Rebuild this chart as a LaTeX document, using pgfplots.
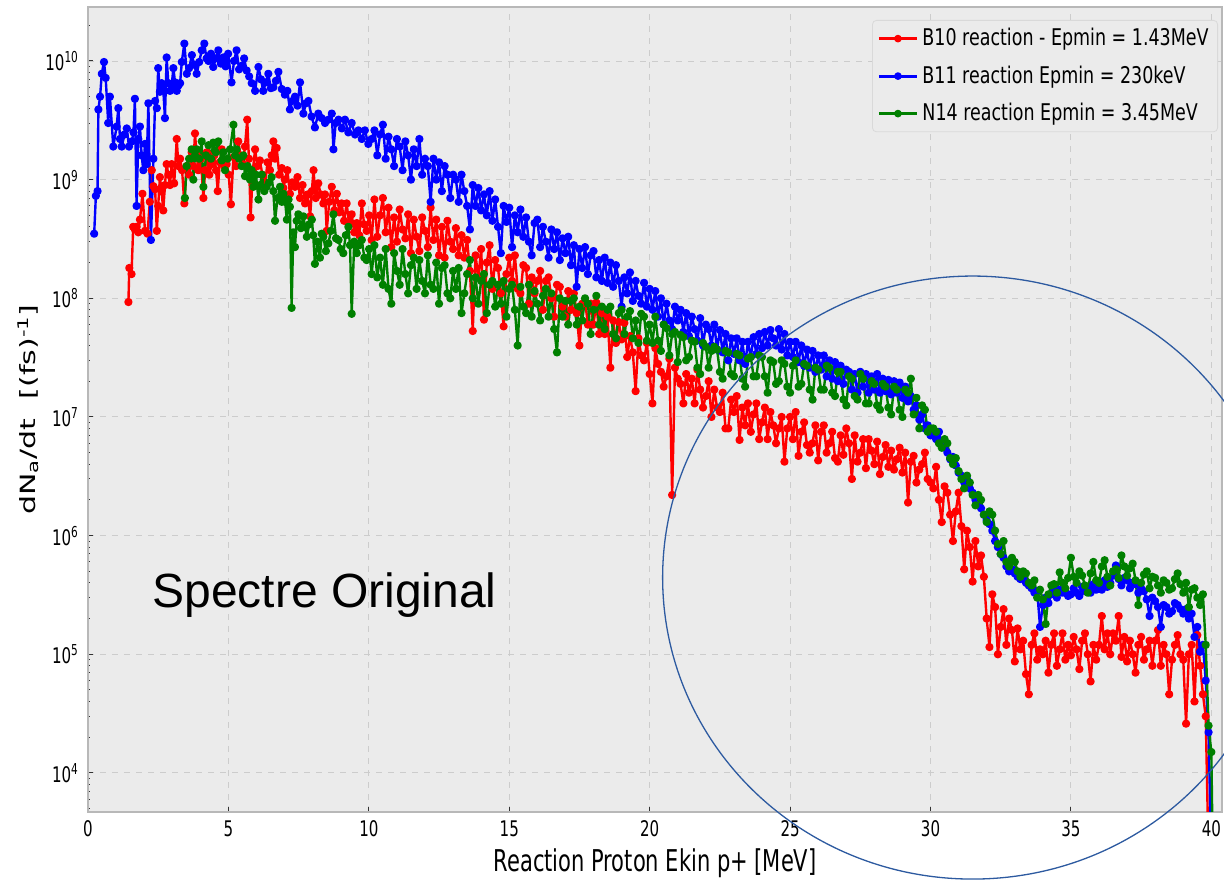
\documentclass[border=0pt]{standalone}
\usepackage{fontspec}
\usepackage{graphicx}
\usepackage{pgfplots}
\pgfplotsset{compat=1.18}
\setmainfont{DejaVu Sans}
\newfontfamily\narrowfont{DejaVu Sans}[FakeStretch=0.70]
\newfontfamily\legfont{DejaVu Sans}[FakeStretch=0.76]
\newfontfamily\arialfont{Liberation Sans}
\definecolor{bgc}{RGB}{235,235,235}
\definecolor{mplred}{RGB}{255,0,0}
\definecolor{mplblue}{RGB}{0,0,255}
\definecolor{mplgreen}{RGB}{0,128,0}
\definecolor{circcol}{RGB}{45,90,160}

\begin{document}
\begin{tikzpicture}
\begin{axis}[
    scale only axis,
    width=567pt, height=402.5pt,
    xmin=0, xmax=40.38,
    ymode=log, log basis y=10,
    ymin=4685, ymax=2.85e10,
    xtick={0,5,...,40},
    ytick={1e4,1e5,1e6,1e7,1e8,1e9,1e10},
    minor ytick={5e3,6e3,7e3,8e3,9e3,2e4,3e4,4e4,5e4,6e4,7e4,8e4,9e4,2e5,3e5,4e5,5e5,6e5,7e5,8e5,9e5,2e6,3e6,4e6,5e6,6e6,7e6,8e6,9e6,2e7,3e7,4e7,5e7,6e7,7e7,8e7,9e7,2e8,3e8,4e8,5e8,6e8,7e8,8e8,9e8,2e9,3e9,4e9,5e9,6e9,7e9,8e9,9e9,2e10},
    /pgf/number format/assume math mode=true,
    yticklabel={10\textsuperscript{\pgfmathparse{int(round(\tick))}\pgfmathresult}},
    ticklabel style={font=\narrowfont\fontsize{10.75}{13}\selectfont},
    xticklabel style={anchor=base, yshift=-12.5pt},
    yticklabel style={xshift=-1pt},
    xtick pos=bottom, ytick pos=left,
    tick align=inside,
    major tick length=2.5pt, minor tick length=1.2pt,
    tick style={black!80, line width=0.5pt},
    grid=major,
    grid style={dashed, black!20, line width=0.45pt},
    axis line style={black!28, line width=0.7pt},
    axis background/.style={fill=bgc},
    xlabel={Reaction Proton Ekin p+ [MeV]},
    xlabel style={at={(axis description cs:0.5,-0.0745)}, anchor=base, font=\narrowfont\fontsize{15}{18}\selectfont},
    ylabel={\scalebox{1}[0.7]{dN\textsubscript{a}/dt\ \ [(fs)\textsuperscript{-1}]}},
    ylabel style={at={(axis description cs:-0.0529,0.5)}, anchor=center, font=\fontsize{15}{18}\selectfont},
    legend style={at={(1,1)}, anchor=north east, xshift=-2pt, yshift=-6.5pt,
        draw=black!15, fill=bgc, rounded corners=2pt,
        font=\legfont\fontsize{11.5}{13}\selectfont,
        nodes={inner sep=2pt}, row sep=4.5pt, inner xsep=2.5pt, inner ysep=2pt},
    legend cell align=left,
    legend image code/.code={\draw[#1,mark=none,line width=1.5pt] (0pt,0pt) -- (19pt,0pt); \fill[#1] (9.5pt,0pt) circle (1.3pt);},
    every axis plot/.append style={line width=1.2pt, line join=round, mark=*, mark size=1.45pt},
]
% B10
\addplot[mplred] coordinates {
(1.44,9.3e7) (1.47,1.8e8) (1.55,1.6e8) (1.61,4e8) (1.67,3.8e8) (1.73,4e8) (1.79,3.6e8) (1.85,4.6e8) (1.94,7.6e8) (2.03,3.7e8) (2.12,3.5e8) (2.2,6.5e8) (2.27,1.2e9) (2.33,8.8e8) (2.39,8.3e8) (2.45,3.7e8) (2.5,6e8) (2.56,1.05e9) (2.62,8e8) (2.68,5.5e8) (2.74,9e8) (2.8,1.35e9) (2.86,1.1e9) (2.92,9e8) (2.98,1.35e9) (3.07,9.3e8) (3.16,2.2e9) (3.22,1.3e9) (3.28,1.5e9) (3.35,1.2e9) (3.43,6.3e8) (3.51,1.3e9) (3.6,1.1e9) (3.69,1.7e9) (3.75,1.3e9) (3.81,2.45e9) (3.87,1.6e9) (3.93,1.2e9) (4.02,1.5e9) (4.11,7e8) (4.17,1.2e9) (4.23,1.7e9) (4.32,1.1e9) (4.4,1.35e9) (4.5,1.6e9) (4.56,1.2e9) (4.62,8e8) (4.69,1.4e9) (4.76,1.8e9) (4.85,1.3e9) (4.94,1.35e9) (5.01,1.1e9) (5.09,6.2e8) (5.18,1.55e9) (5.27,1.3e9) (5.35,2.1e9) (5.43,1.6e9) (5.51,1.35e9) (5.59,1.9e9) (5.67,3.2e9) (5.73,1.5e9) (5.79,4.8e8) (5.87,1.2e9) (5.95,1.8e9) (6.03,1.3e9) (6.12,1.45e9) (6.21,1.1e9) (6.3,8.7e8) (6.39,1.4e9) (6.48,1.2e9) (6.54,1.6e9) (6.6,2.1e9) (6.66,1.5e9) (6.72,1.85e9) (6.81,1.1e9) (6.9,1.25e9) (6.96,8.5e8) (7.01,1e9) (7.1,1.2e9) (7.19,7.6e8) (7.28,9.5e8) (7.37,8.7e8) (7.46,1.05e9) (7.55,7e8) (7.64,9e8) (7.73,6.3e8) (7.82,7.5e8) (7.91,4.9e8) (7.97,8e8) (8.03,1.2e9) (8.11,7e8) (8.2,9.3e8) (8.29,7.5e8) (8.38,6.3e8) (8.44,7.5e8) (8.5,3.7e8) (8.59,6.5e8) (8.68,8.7e8) (8.77,5.5e8) (8.86,7.6e8) (8.95,5.3e8) (9.03,6.3e8) (9.12,4.5e8) (9.21,6.3e8) (9.3,4.2e8) (9.39,5.1e8) (9.48,3.6e8) (9.57,4.3e8) (9.66,3.4e8) (9.75,6.3e8) (9.83,4.2e8) (9.92,3.7e8) (10.01,5e8) (10.1,3.1e8)
(10.2,6.8e8) (10.3,3.3e8) (10.4,5e8) (10.5,7e8) (10.6,3.6e8) (10.7,5.8e8) (10.8,2.7e8) (10.9,4.8e8) (11.0,3e8)
(11.1,5.6e8) (11.2,3.8e8) (11.3,3.2e8) (11.4,5.1e8) (11.5,2.4e8) (11.6,4.6e8) (11.7,3.3e8) (11.8,2.5e8) (11.9,4.8e8) (12.0,3.7e8)
(12.1,2.7e8) (12.2,5.8e8) (12.3,3.1e8) (12.4,4.6e8) (12.5,2.3e8) (12.6,4e8) (12.7,2.2e8) (12.8,4.5e8) (12.9,3e8) (13.0,2.6e8)
(13.1,3.9e8) (13.2,2.3e8) (13.3,3.4e8) (13.4,2.2e8) (13.5,3.1e8) (13.6,1.7e8) (13.7,5.3e7) (13.8,2.3e8) (13.9,1.5e8) (14.0,2.6e8)
(14.1,6.6e7) (14.2,2e8) (14.3,2.8e8) (14.4,1.2e8) (14.5,2.1e8) (14.6,1.8e8) (14.7,1.1e8) (14.8,5.8e7) (14.9,1.6e8) (15.0,2.2e8)
(15.1,1.4e8) (15.2,2.3e8) (15.3,1.2e8) (15.4,1.1e8) (15.5,1.9e8) (15.6,1.8e8) (15.7,9e7) (15.8,1.5e8) (15.9,1.1e8) (16.0,1.4e8)
(16.1,1.7e8) (16.2,8e7) (16.3,1.4e8) (16.4,1.5e8) (16.5,1e8) (16.6,7e7) (16.7,1.3e8) (16.8,1.25e8) (16.9,8.5e7) (17.0,7e7)
(17.1,1.15e8) (17.2,8e7) (17.3,1.1e8) (17.4,7.5e7) (17.5,4e7) (17.6,9e7) (17.7,9.5e7) (17.8,6e7) (17.9,9e7) (18.0,6e7)
(18.1,9.2e7) (18.2,5e7) (18.3,7.5e7) (18.4,5e7) (18.5,7e7) (18.6,2.6e7) (18.7,6.5e7) (18.8,4.2e7) (18.9,6.3e7) (19.0,4.5e7)
(19.1,6.2e7) (19.2,3.2e7) (19.3,4.8e7) (19.4,3.5e7) (19.5,1.65e7) (19.6,4.6e7) (19.7,3.3e7) (19.8,3e7) (19.9,4.2e7) (20.0,2.3e7)
(20.1,1.3e7) (20.2,3.8e7) (20.3,2.8e7) (20.4,2.4e7) (20.5,1.8e7) (20.6,2.2e7) (20.7,3.1e7) (20.8,2.2e6) (20.9,2.6e7) (21.0,2.1e7)
(21.1,1.9e7) (21.2,1.3e7) (21.3,2.3e7) (21.4,1.6e7) (21.5,2.1e7) (21.6,1.3e7) (21.7,2.5e7) (21.8,1.7e7) (21.9,1.2e7) (22.0,1.5e7)
(22.1,2e7) (22.2,1e7) (22.3,1.7e7) (22.4,1.2e7) (22.5,1.1e7) (22.6,1.6e7) (22.7,8e6) (22.8,8e6) (22.9,1.4e7) (23.0,1.1e7)
(23.1,1.5e7) (23.2,6.4e6) (23.3,1.2e7) (23.4,8.5e6) (23.5,1.3e7) (23.6,7.5e6) (23.7,1.05e7) (23.8,1.3e7) (23.9,6.5e6) (24.0,9e6)
(24.1,1.2e7) (24.2,6.5e6) (24.3,1.1e7) (24.4,8.5e6) (24.5,6e6) (24.6,8e6) (24.7,1e7) (24.8,4.2e6) (24.9,8e6) (25.0,1e7)
(25.1,6.5e6) (25.2,1.1e7) (25.3,4.7e6) (25.4,7.5e6) (25.5,9e6) (25.6,5.8e6) (25.7,5e6) (25.8,6e6) (25.9,8.5e6) (26.0,4.3e6)
(26.1,7.5e6) (26.2,8.5e6) (26.3,5e6) (26.4,6e6) (26.5,7.5e6) (26.6,4.5e6) (26.7,4.2e6) (26.8,7e6) (26.9,4.8e6) (27.0,8e6)
(27.1,6e6) (27.2,3e6) (27.3,7e6) (27.4,4.2e6) (27.5,5e6) (27.6,6.5e6) (27.7,3.7e6) (27.8,6.5e6) (27.9,5.2e6) (28.0,4e6)
(28.1,6.2e6) (28.2,3.3e6) (28.3,4.6e6) (28.4,5.8e6) (28.5,3.8e6) (28.6,5.2e6) (28.7,3.6e6) (28.8,4.4e6) (28.9,5.5e6) (29.0,3.4e6)
(29.1,5e6) (29.2,1.9e6) (29.3,4.2e6) (29.4,4.7e6) (29.5,2.8e6) (29.6,3.6e6) (29.7,4e6) (29.8,5e6) (29.9,3e6) (30.0,2.8e6)
(30.1,2.5e6) (30.2,3.8e6) (30.3,2e6) (30.4,1.3e6) (30.5,2.6e6) (30.6,2.3e6) (30.7,1.5e6) (30.8,9e5) (30.9,1.6e6) (31.0,2.3e6)
(31.1,1.2e6) (31.2,5.2e5) (31.3,1.1e6) (31.4,8e5) (31.5,4.1e5) (31.6,9e5) (31.7,5.5e5) (31.8,6.8e5) (31.9,4.5e5) (32.0,2e5)
(32.1,1.15e5) (32.2,3.2e5) (32.3,2.5e5) (32.4,1e5) (32.5,1.7e5) (32.6,2.4e5) (32.7,1.2e5) (32.8,2e5) (32.9,1.6e5) (33.0,8.7e4)
(33.1,1.65e5) (33.2,1.1e5) (33.3,1.3e5) (33.4,6.8e4) (33.5,4.6e4) (33.6,1.2e5) (33.7,1.5e5) (33.8,9e4) (33.9,1.1e5) (34.0,1e5)
(34.1,1.3e5) (34.2,7e4) (34.3,1.2e5) (34.4,1.5e5) (34.5,8e4) (34.6,1.1e5) (34.7,1.5e5) (34.8,9e4) (34.9,1.2e5) (35.0,9.8e4)
(35.1,1.4e5) (35.2,1.1e5) (35.3,7.5e4) (35.4,1.3e5) (35.5,1.5e5) (35.6,1e5) (35.7,5.9e4) (35.8,1.2e5) (35.9,9e4) (36.0,1.2e5)
(36.1,2.1e5) (36.2,1.1e5) (36.3,1.5e5) (36.4,1e5) (36.5,1.5e5) (36.6,1.3e5) (36.7,2.1e5) (36.8,9.5e4) (36.9,1.4e5) (37.0,8.7e4)
(37.1,1.3e5) (37.2,1e5) (37.3,7e4) (37.4,1.2e5) (37.5,1.4e5) (37.6,9e4) (37.7,1.1e5) (37.8,1.3e5) (37.9,8e4) (38.0,1.3e5)
(38.1,1.6e5) (38.2,8e4) (38.3,1.2e5) (38.4,1e5) (38.5,4.6e4) (38.6,9e4) (38.7,1.2e5) (38.8,1.45e5) (38.9,1e5) (39.0,9e4)
(39.1,2.6e4) (39.2,1e5) (39.3,1.2e5) (39.4,4e4) (39.5,1.45e5) (39.6,8e4) (39.7,4.6e4) (39.8,3e4) (39.9,2e3)
};
\addlegendentry{B10 reaction - Epmin = 1.43MeV}
% B11
\addplot[mplblue] coordinates {
(0.22,3.5e8) (0.28,7.3e8) (0.34,8e8) (0.37,3.9e9) (0.43,5e9) (0.49,7.8e9) (0.57,9.8e9) (0.63,7.2e9) (0.72,3e9) (0.78,5e9) (0.9,1.9e9) (1.02,2.8e9) (1.08,4e9) (1.14,2.2e9) (1.2,1.9e9) (1.3,2.4e9) (1.38,2.7e9) (1.46,1.9e9) (1.56,2.1e9) (1.62,2.5e9) (1.67,4.8e9) (1.73,6e8) (1.79,2.2e9) (1.85,2.8e9) (1.91,1.6e9) (1.97,1.2e9) (2.03,2e9) (2.09,1.35e9) (2.15,4.4e9) (2.24,3.1e8) (2.33,1.5e9) (2.39,4.6e9) (2.45,4e9) (2.5,8.7e9) (2.56,5.5e9) (2.62,6.5e9) (2.68,5.8e9) (2.74,3.3e9) (2.8,1.07e10) (2.86,6.5e9) (2.92,5.6e9) (2.98,6.2e9) (3.04,8.7e9) (3.1,6.6e9) (3.16,5.6e9) (3.22,6.2e9) (3.28,6.5e9) (3.34,9.8e9) (3.43,1.4e10) (3.52,7.8e9) (3.6,8.7e9) (3.7,1.12e10) (3.78,9.3e9) (3.87,7.8e9) (3.96,9.8e9) (4.05,1.23e10) (4.14,1.4e10) (4.22,1.05e10) (4.29,1e10) (4.38,1.15e10) (4.46,8.9e9) (4.55,1.05e10) (4.64,1.23e10) (4.73,9.5e9) (4.82,1.07e10) (4.9,9e9) (4.99,1.15e10) (5.11,6.6e9) (5.2,1e10) (5.29,1.23e10) (5.38,8.5e9) (5.47,9.1e9) (5.56,1.05e10) (5.65,8.3e9) (5.74,7.4e9) (5.83,6.5e9) (5.95,5.6e9) (6.07,8.9e9) (6.16,7e9) (6.24,5.6e9) (6.33,6.6e9) (6.42,7.8e9) (6.51,5.9e9) (6.6,6e9) (6.69,6.8e9) (6.78,8.1e9) (6.9,5.8e9) (7.01,5.2e9) (7.1,5.6e9) (7.19,3.9e9) (7.28,4.6e9) (7.37,5e9) (7.46,4.2e9) (7.55,6.6e9) (7.67,3.6e9) (7.76,4.4e9) (7.85,4.6e9) (7.96,3.4e9) (8.08,2.75e9) (8.2,3.6e9) (8.32,3.3e9) (8.44,3e9) (8.56,3.2e9) (8.68,3.6e9) (8.74,1.8e9) (8.82,3e9) (8.92,3.2e9) (9.04,2.7e9) (9.15,3.2e9) (9.27,2.5e9) (9.39,3e9) (9.51,2.4e9) (9.63,2.6e9) (9.75,2.2e9) (9.86,2.6e9) (9.98,2e9) (10.1,2.2e9)
(10.2,2.6e9) (10.3,1.6e9) (10.4,2.4e9) (10.5,2.9e9) (10.6,1.5e9) (10.7,2.3e9) (10.8,1.8e9) (10.9,1.3e9) (11.0,2.2e9)
(11.1,1.9e9) (11.2,1.2e9) (11.3,2.1e9) (11.4,1.6e9) (11.5,1e9) (11.6,1.8e9) (11.7,1.3e9) (11.8,2.2e9) (11.9,1.1e9) (12.0,1.5e9)
(12.1,1.3e9) (12.2,6.5e8) (12.3,1.5e9) (12.4,1e9) (12.5,1.4e9) (12.6,8e8) (12.7,1.3e9) (12.8,1.1e9) (12.9,7e8) (13.0,1.1e9)
(13.1,1e9) (13.2,6.5e8) (13.3,1.1e9) (13.4,8e8) (13.5,6e8) (13.6,3.8e8) (13.7,9e8) (13.8,6e8) (13.9,8.5e8) (14.0,5.5e8)
(14.1,7.5e8) (14.2,5e8) (14.3,8e8) (14.4,4.5e8) (14.5,6.8e8) (14.6,4e8) (14.7,2.4e8) (14.8,6e8) (14.9,4.4e8) (15.0,5.8e8)
(15.1,2.7e8) (15.2,5e8) (15.3,3.6e8) (15.4,5.6e8) (15.5,3.3e8) (15.6,4.8e8) (15.7,3e8) (15.8,2.3e8) (15.9,4.3e8) (16.0,4.6e8)
(16.1,2.7e8) (16.2,4e8) (16.3,3e8) (16.4,2.2e8) (16.5,3.8e8) (16.6,2.6e8) (16.7,3.6e8) (16.8,2.1e8) (16.9,3.2e8) (17.0,2.4e8)
(17.1,3.3e8) (17.2,1.9e8) (17.3,2.8e8) (17.4,1.25e8) (17.5,2.6e8) (17.6,1.8e8) (17.7,2.7e8) (17.8,1.6e8) (17.9,2.3e8) (18.0,2.5e8)
(18.1,1.5e8) (18.2,2.1e8) (18.3,1.4e8) (18.4,2.2e8) (18.5,1.35e8) (18.6,2e8) (18.7,1.25e8) (18.8,1.9e8) (18.9,1.4e8) (19.0,8.5e7)
(19.1,1.5e8) (19.2,1.1e8) (19.3,1.65e8) (19.4,9.5e7) (19.5,1.4e8) (19.6,1.05e8) (19.7,9e7) (19.8,1.35e8) (19.9,8.5e7) (20.0,1.2e8)
(20.1,8e7) (20.2,1.15e8) (20.3,7e7) (20.4,1e8) (20.5,6e7) (20.6,9e7) (20.7,6.5e7) (20.8,5.5e7) (20.9,8.5e7) (21.0,6.5e7)
(21.1,8e7) (21.2,5.2e7) (21.3,7.5e7) (21.4,4.8e7) (21.5,7e7) (21.6,5.5e7) (21.7,4.4e7) (21.8,6.8e7) (21.9,4e7) (22.0,6e7)
(22.1,5.5e7) (22.2,4e7) (22.3,6e7) (22.4,3.7e7) (22.5,5.4e7) (22.6,3.5e7) (22.7,5e7) (22.8,3e7) (22.9,4.6e7) (23.0,3.4e7)
(23.1,4.6e7) (23.2,3e7) (23.3,4.3e7) (23.4,2.8e7) (23.5,4.3e7) (23.6,3.2e7) (23.7,4.7e7) (23.8,3.4e7) (23.9,5e7) (24.0,3.8e7)
(24.1,5.2e7) (24.2,4e7) (24.3,5.4e7) (24.4,4.6e7) (24.5,4e7) (24.6,5.5e7) (24.7,3.7e7) (24.8,5e7) (24.9,3.3e7) (25.0,4.3e7)
(25.1,3.2e7) (25.2,4.3e7) (25.3,2.9e7) (25.4,4e7) (25.5,2.7e7) (25.6,3.7e7) (25.7,2.6e7) (25.8,3.6e7) (25.9,2.4e7) (26.0,3.3e7)
(26.1,2.5e7) (26.2,3.3e7) (26.3,2.2e7) (26.4,3e7) (26.5,2.1e7) (26.6,2.9e7) (26.7,2e7) (26.8,2.7e7) (26.9,1.9e7) (27.0,2.5e7)
(27.1,2.4e7) (27.2,1.7e7) (27.3,2.3e7) (27.4,1.6e7) (27.5,2.4e7) (27.6,1.8e7) (27.7,2.3e7) (27.8,1.6e7) (27.9,2.2e7) (28.0,1.7e7)
(28.1,2.3e7) (28.2,1.6e7) (28.3,2.1e7) (28.4,1.65e7) (28.5,2.05e7) (28.6,1.55e7) (28.7,2e7) (28.8,1.6e7) (28.9,1.95e7) (29.0,1.45e7)
(29.1,1.8e7) (29.2,1.35e7) (29.3,1.5e7) (29.4,1.15e7) (29.5,1.25e7) (29.6,9.5e6) (29.7,1.05e7) (29.8,8e6) (29.9,8.5e6) (30.0,7e6)
(30.1,7e6) (30.2,6.5e6) (30.3,7.5e6) (30.4,6e6) (30.5,5.5e6) (30.6,5e6) (30.7,4.4e6) (30.8,4.6e6) (30.9,3.9e6) (31.0,3.4e6)
(31.1,3.2e6) (31.2,2.8e6) (31.3,3e6) (31.4,2.5e6) (31.5,2.3e6) (31.6,2e6) (31.7,2.1e6) (31.8,1.7e6) (31.9,1.5e6) (32.0,1.35e6)
(32.1,1.25e6) (32.2,1.1e6) (32.3,9e5) (32.4,8e5) (32.5,7e5) (32.6,6.5e5) (32.7,5.5e5) (32.8,5e5) (32.9,5.2e5) (33.0,4.8e5)
(33.1,4.5e5) (33.2,4.3e5) (33.3,4.4e5) (33.4,4e5) (33.5,3.8e5) (33.6,3.6e5) (33.7,3.3e5) (33.8,3.4e5) (33.9,1.7e5) (34.0,2.6e5)
(34.1,3e5) (34.2,2.7e5) (34.3,3.2e5) (34.4,3.4e5) (34.5,3e5) (34.6,3.5e5) (34.7,3.3e5) (34.8,3.4e5) (34.9,3.1e5) (35.0,3.2e5)
(35.1,3.6e5) (35.2,3.3e5) (35.3,3.1e5) (35.4,3.7e5) (35.5,3.4e5) (35.6,3.6e5) (35.7,3.3e5) (35.8,3.9e5) (35.9,3.5e5) (36.0,3.8e5)
(36.1,3.5e5) (36.2,4.2e5) (36.3,3.7e5) (36.4,4e5) (36.5,4.6e5) (36.6,5.6e5) (36.7,4.3e5) (36.8,3.8e5) (36.9,4.4e5) (37.0,4.2e5)
(37.1,3.6e5) (37.2,4e5) (37.3,3.9e5) (37.4,3.3e5) (37.5,3.6e5) (37.6,3.4e5) (37.7,2.9e5) (37.8,2.1e5) (37.9,3e5) (38.0,2.8e5)
(38.1,2.5e5) (38.2,1.7e5) (38.3,2.6e5) (38.4,2.5e5) (38.5,2.2e5) (38.6,2.3e5) (38.7,2.7e5) (38.8,2.6e5) (38.9,2.4e5) (39.0,2.2e5)
(39.1,2.4e5) (39.2,2e5) (39.3,2.2e5) (39.4,1.4e5) (39.5,1.7e5) (39.6,1.05e5) (39.7,1.2e5) (39.8,6e4) (39.9,2.2e4) (40.0,2e3)
};
\addlegendentry{B11 reaction Epmin = 230keV}
% N14
\addplot[mplgreen] coordinates {
(3.45,7e8) (3.51,1.3e9) (3.6,1.5e9) (3.69,1.8e9) (3.75,1e9) (3.81,1.6e9) (3.87,1.8e9) (3.96,1.5e9) (4.05,2.1e9) (4.11,8.7e8) (4.2,1.6e9) (4.29,1.95e9) (4.38,1.5e9) (4.46,2.05e9) (4.55,1.7e9) (4.64,2.1e9) (4.76,1.45e9) (4.82,1.7e9) (4.88,1.2e9) (4.97,1.5e9) (5.06,1.8e9) (5.18,2.9e9) (5.24,1.6e9) (5.29,1.8e9) (5.38,1.5e9) (5.47,1.3e9) (5.53,1.6e9) (5.59,1.07e9) (5.68,1.3e9) (5.77,1e9) (5.83,1.2e9) (5.89,8.7e8) (5.98,1.1e9) (6.07,6.8e8) (6.13,9e8) (6.19,1.1e9) (6.28,8e8) (6.36,8.7e8) (6.45,9.5e8) (6.54,1.05e9) (6.6,8e8) (6.66,4.5e8) (6.75,7e8) (6.84,8.7e8) (6.9,6.5e8) (6.96,7.6e8) (7.02,6.5e8) (7.08,4.6e8) (7.14,6.8e8) (7.19,5.9e8) (7.25,8.3e7) (7.31,3.6e8) (7.37,2.7e8) (7.43,4.5e8) (7.49,5.1e8) (7.58,3.9e8) (7.67,4.9e8) (7.73,4e8) (7.79,3.3e8) (7.88,4.2e8) (7.97,4.6e8) (8.02,3.4e8) (8.08,1.95e8) (8.17,3e8) (8.26,2.2e8) (8.32,3.5e8) (8.38,3.3e8) (8.47,2.5e8) (8.56,2.9e8) (8.65,3.7e8) (8.74,5.1e8) (8.83,3.2e8) (8.92,3.1e8) (9.0,2.6e8) (9.09,2.4e8) (9.18,3.4e8) (9.27,4e8) (9.33,2.8e8) (9.39,7.4e7) (9.48,3e8) (9.57,2.4e8) (9.66,2.8e8) (9.75,3.1e8) (9.84,2.2e8) (9.92,2.1e8) (10.01,2.6e8) (10.1,1.6e8)
(10.2,2.8e8) (10.3,1.5e8) (10.4,2.2e8) (10.5,1.3e8) (10.6,2.6e8) (10.7,1.2e8) (10.8,9e7) (10.9,2.4e8) (11.0,1.7e8)
(11.1,1.3e8) (11.2,2.6e8) (11.3,1.6e8) (11.4,1.1e8) (11.5,1.9e8) (11.6,2.2e8) (11.7,1.2e8) (11.8,2.1e8) (11.9,1.4e8) (12.0,1.1e8)
(12.1,2.3e8) (12.2,1.3e8) (12.3,1.2e8) (12.4,2e8) (12.5,9e7) (12.6,1.8e8) (12.7,1.9e8) (12.8,1.1e8) (12.9,1e8) (13.0,1.7e8)
(13.1,1.2e8) (13.2,1.8e8) (13.3,7.5e7) (13.4,1.1e8) (13.5,1.6e8) (13.6,2.1e8) (13.7,1e8) (13.8,1.5e8) (13.9,9e7) (14.0,1.4e8)
(14.1,1.6e8) (14.2,7.5e7) (14.3,1.3e8) (14.4,1.4e8) (14.5,8.5e7) (14.6,1.3e8) (14.7,9e7) (14.8,1.4e8) (14.9,7e7) (15.0,1.2e8)
(15.1,1.3e8) (15.2,8e7) (15.3,4e7) (15.4,1.25e8) (15.5,8.5e7) (15.6,7.5e7) (15.7,1.3e8) (15.8,7e7) (15.9,1.15e8) (16.0,9e7)
(16.1,6.5e7) (16.2,1.05e8) (16.3,1.2e8) (16.4,7e7) (16.5,1.1e8) (16.6,5.5e7) (16.7,3.5e7) (16.8,1e8) (16.9,7e7) (17.0,9.5e7)
(17.1,6e7) (17.2,9.5e7) (17.3,1e8) (17.4,6e7) (17.5,8.5e7) (17.6,6.5e7) (17.7,1e8) (17.8,9e7) (17.9,5e7) (18.0,8e7)
(18.1,1.05e8) (18.2,6e7) (18.3,8.5e7) (18.4,5.5e7) (18.5,8e7) (18.6,8.5e7) (18.7,5e7) (18.8,4.6e7) (18.9,7.5e7) (19.0,8e7)
(19.1,5e7) (19.2,7e7) (19.3,7.8e7) (19.4,4.6e7) (19.5,6.5e7) (19.6,4.2e7) (19.7,7.4e7) (19.8,7e7) (19.9,4.4e7) (20.0,6e7)
(20.1,4.2e7) (20.2,7e7) (20.3,4.4e7) (20.4,3.6e7) (20.5,6e7) (20.6,5.6e7) (20.7,3.3e7) (20.8,5e7) (20.9,5.2e7) (21.0,2.9e7)
(21.1,4.9e7) (21.2,4.7e7) (21.3,3e7) (21.4,3.2e7) (21.5,4.4e7) (21.6,4.3e7) (21.7,2.6e7) (21.8,2.3e7) (21.9,4.2e7) (22.0,3.9e7)
(22.1,2.6e7) (22.2,3.6e7) (22.3,3.9e7) (22.4,3.7e7) (22.5,2.4e7) (22.6,2.1e7) (22.7,3.6e7) (22.8,3.5e7) (22.9,2.3e7) (23.0,2.2e7)
(23.1,3.4e7) (23.2,3.3e7) (23.3,2.1e7) (23.4,1.8e7) (23.5,3.1e7) (23.6,3.2e7) (23.7,2.2e7) (23.8,2.2e7) (23.9,3.3e7) (24.0,3.2e7)
(24.1,2.2e7) (24.2,1.6e7) (24.3,3e7) (24.4,2.9e7) (24.5,1.9e7) (24.6,2e7) (24.7,3e7) (24.8,2.8e7) (24.9,1.8e7) (25.0,1.6e7)
(25.1,2.7e7) (25.2,3e7) (25.3,1.8e7) (25.4,1.9e7) (25.5,2.8e7) (25.6,2.7e7) (25.7,1.7e7) (25.8,1.4e7) (25.9,2.6e7) (26.0,2.5e7)
(26.1,1.7e7) (26.2,1.7e7) (26.3,2.7e7) (26.4,2.6e7) (26.5,1.6e7) (26.6,1.5e7) (26.7,2.4e7) (26.8,2.4e7) (26.9,1.4e7) (27.0,1.25e7)
(27.1,2.2e7) (27.2,2.1e7) (27.3,1.5e7) (27.4,1.4e7) (27.5,2.3e7) (27.6,2.1e7) (27.7,1.3e7) (27.8,1.3e7) (27.9,2e7) (28.0,1.9e7)
(28.1,1.25e7) (28.2,1.15e7) (28.3,1.9e7) (28.4,1.8e7) (28.5,1.2e7) (28.6,1.05e7) (28.7,1.8e7) (28.8,1.7e7) (28.9,1.15e7) (29.0,1e7)
(29.1,1.7e7) (29.2,1.6e7) (29.3,2.1e7) (29.4,1.05e7) (29.5,1.45e7) (29.6,8e6) (29.7,1.25e7) (29.8,1.15e7) (29.9,7.5e6) (30.0,8e6)
(30.1,8e6) (30.2,7.5e6) (30.3,6e6) (30.4,5.5e6) (30.5,6.5e6) (30.6,6e6) (30.7,4.5e6) (30.8,4e6) (30.9,4.5e6) (31.0,3.5e6)
(31.1,3e6) (31.2,2.5e6) (31.3,3.2e6) (31.4,2.8e6) (31.5,2.2e6) (31.6,1.8e6) (31.7,2.2e6) (31.8,2e6) (31.9,1.5e6) (32.0,1.3e6)
(32.1,1.6e6) (32.2,1.5e6) (32.3,1.1e6) (32.4,8.5e5) (32.5,7e5) (32.6,9e5) (32.7,6e5) (32.8,5.5e5) (32.9,6.5e5) (33.0,6e5)
(33.1,5e5) (33.2,4.5e5) (33.3,5e5) (33.4,4.8e5) (33.5,4e5) (33.6,3.8e5) (33.7,4.2e5) (33.8,3e5) (33.9,3.5e5) (34.0,2.9e5)
(34.1,1.8e5) (34.2,3.2e5) (34.3,3.8e5) (34.4,3.9e5) (34.5,3.3e5) (34.6,4.9e5) (34.7,4e5) (34.8,3.6e5) (34.9,4.4e5) (35.0,6.5e5)
(35.1,4.5e5) (35.2,4e5) (35.3,5e5) (35.4,4.6e5) (35.5,3.8e5) (35.6,3.3e5) (35.7,4.8e5) (35.8,6e5) (35.9,4.2e5) (36.0,4e5)
(36.1,5.5e5) (36.2,6.2e5) (36.3,4.5e5) (36.4,3.8e5) (36.5,5e5) (36.6,5.2e5) (36.7,4.4e5) (36.8,6.8e5) (36.9,5.5e5) (37.0,4.6e5)
(37.1,5.3e5) (37.2,5.8e5) (37.3,4.2e5) (37.4,2.6e5) (37.5,4e5) (37.6,4.7e5) (37.7,5e5) (37.8,3.6e5) (37.9,4.5e5) (38.0,4.4e5)
(38.1,3.8e5) (38.2,3.3e5) (38.3,4.2e5) (38.4,4e5) (38.5,3.5e5) (38.6,3.6e5) (38.7,4.3e5) (38.8,4.8e5) (38.9,3.9e5) (39.0,3.3e5)
(39.1,4e5) (39.2,2.5e5) (39.3,3.5e5) (39.4,3.6e5) (39.5,3e5) (39.6,2.6e5) (39.7,3.2e5) (39.8,1.2e5) (39.9,2.5e4) (40.0,1.5e4) (40.05,2e3)
};
\addlegendentry{N14 reaction Epmin = 3.45MeV}
\node[anchor=base west, inner sep=0pt, font=\arialfont\fontsize{24}{28}\selectfont] at (axis cs:2.28,2.5e5) {Spectre Original};
\coordinate (cc) at (axis cs:31.5,4.43e5);
\end{axis}
\begin{scope}
\clip (-44pt,-35pt) rectangle (568pt,406pt);
\draw[circcol, line width=0.65pt] (cc) ellipse [x radius=155pt, y radius=150.75pt];
\end{scope}
\pgfresetboundingbox
\useasboundingbox (-44pt,-35pt) rectangle (568pt,406pt);
\end{tikzpicture}
\end{document}
